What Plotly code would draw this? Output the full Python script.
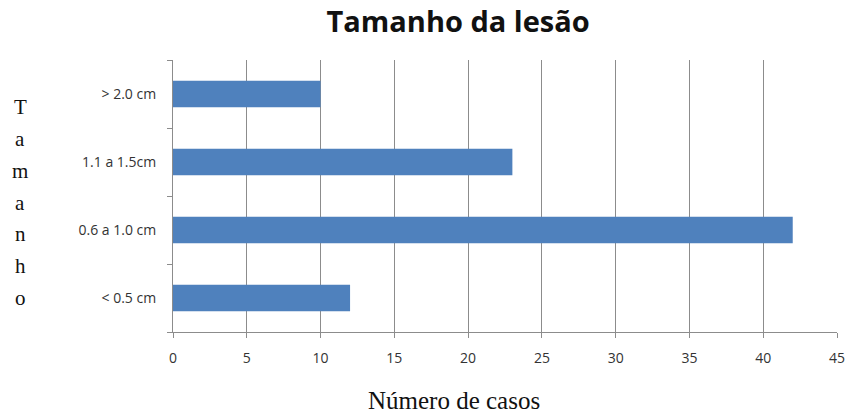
import plotly.graph_objects as go

# Lesion size categories (bottom to top) and number of cases
categorias = ["< 0.5 cm", "0.6 a 1.0 cm", "1.1 a 1.5cm", "> 2.0 cm"]
casos = [12, 42, 23, 10]
x_ticks = [0, 5, 10, 15, 20, 25, 30, 35, 40, 45]
y_titulo = "Tamanho"

fig = go.Figure(
    go.Bar(
        x=casos,
        y=categorias,
        orientation="h",
        marker=dict(color="#4F81BD", line=dict(width=0)),
        width=0.39,
    )
)

# Vertical axis title: one letter per line, evenly spaced
letra_passo = 31.7
n = len(y_titulo)
anotacoes = []
for i, letra in enumerate(y_titulo):
    anotacoes.append(
        dict(
            text=letra,
            xref="paper",
            yref="paper",
            x=-0.230,
            y=0.476,
            yshift=((n - 1) / 2 - i) * letra_passo,
            xanchor="center",
            yanchor="middle",
            showarrow=False,
            font=dict(family="Liberation Serif", size=21, color="#111"),
        )
    )

anotacoes.append(
    dict(
        text="Número de casos",
        xref="paper",
        yref="paper",
        x=0.423,
        y=-0.252,
        xanchor="center",
        yanchor="middle",
        showarrow=False,
        font=dict(family="Liberation Serif", size=25, color="#111"),
    )
)

fig.update_layout(
    width=866,
    height=416,
    paper_bgcolor="white",
    plot_bgcolor="white",
    margin=dict(l=173, r=29, t=60, b=84),
    showlegend=False,
    title=dict(
        text="<b>Tamanho da lesão</b>",
        x=0.529,
        xanchor="center",
        y=0.947,
        yanchor="middle",
        font=dict(family="Open Sans", size=29, color="#111"),
    ),
    annotations=anotacoes,
)

fig.update_xaxes(
    range=[0, 45],
    tickvals=x_ticks,
    showgrid=True,
    gridcolor="#8c8c8c",
    gridwidth=1,
    showline=True,
    linecolor="#8c8c8c",
    zeroline=False,
    ticks="outside",
    ticklen=5,
    tickcolor="#8c8c8c",
    ticklabelstandoff=8,
    tickfont=dict(family="Open Sans", size=14, color="#333"),
    fixedrange=True,
)

fig.update_yaxes(
    type="category",
    categoryorder="array",
    categoryarray=categorias,
    tickson="boundaries",
    ticks="outside",
    ticklen=5,
    tickcolor="#8c8c8c",
    showgrid=False,
    showline=True,
    linecolor="#8c8c8c",
    ticklabelstandoff=13,
    tickfont=dict(family="Open Sans", size=14, color="#333"),
    fixedrange=True,
)

fig.write_html("out.html")
